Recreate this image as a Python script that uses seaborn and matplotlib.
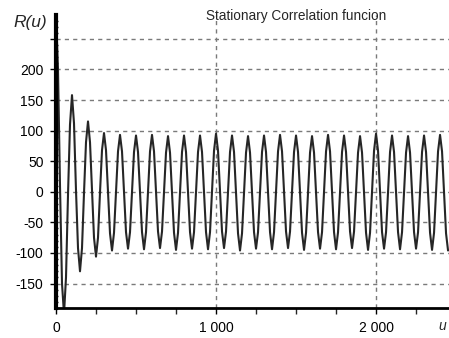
import numpy as np
import pandas as pd
import matplotlib
matplotlib.use("Agg")
import matplotlib.pyplot as plt
import seaborn as sns
from matplotlib.ticker import MultipleLocator, FixedLocator

# sample spacing of the read-off curve (units of u)
step = 12.5
# R(u) read every 12.5 units, one row per period of 100
r_values = [
    290, 200, 10, -150, -200, -140, -5, 110,
    158, 112, 2, -92, -130, -92, -2, 81,
    115, 81, 1, -75, -106, -75, -1, 68,
    96, 68, 0, -68, -96, -67, 0, 66,
    93, 66, 0, -66, -93, -66, 0, 65,
    92, 65, -1, -66, -94, -66, 0, 66,
    93, 66, 1, -65, -92, -65, 0, 64,
    91, 64, -1, -67, -95, -67, -1, 65,
    92, 65, 0, -66, -93, -66, 0, 65,
    92, 65, 0, -66, -94, -66, 0, 67,
    95, 67, 1, -65, -92, -65, 0, 65,
    92, 65, -1, -68, -96, -68, -1, 64,
    91, 64, 0, -66, -93, -66, 0, 65,
    92, 65, 0, -66, -94, -66, 0, 66,
    93, 66, 1, -65, -92, -65, 0, 65,
    92, 65, -1, -67, -95, -67, -1, 64,
    91, 64, 0, -66, -93, -66, 0, 66,
    93, 66, 0, -66, -94, -66, 0, 65,
    92, 65, 0, -65, -92, -65, 0, 64,
    91, 64, -1, -67, -95, -67, -1, 67,
    95, 67, 1, -66, -93, -66, 0, 65,
    92, 65, 0, -66, -94, -66, 0, 64,
    91, 64, 0, -66, -93, -66, 0, 65,
    92, 65, -1, -67, -95, -67, -1, 66,
    93, 66, -1, -68, -96,
]
u_values = [i * step for i in range(len(r_values))]

y_ticks = [-150, -100, -50, 0, 50, 100, 150, 200, 250]
y_tick_labels = ["-150", "-100", "-50", "0", "50", "100", "150", "200", ""]
x_ticks = [0, 1000, 2000]
x_tick_labels = ["0", "1 000", "2 000"]

sns.set_style("white")
plt.rcParams["font.family"] = ["Liberation Sans", "DejaVu Sans"]

df = pd.DataFrame({"u": u_values, "R": r_values})

fig = plt.figure(figsize=(4.49, 3.38), dpi=100)
ax = fig.add_axes([56 / 449, 1 - 308 / 338, 1 - 56 / 449, (308 - 15) / 338])

sns.lineplot(data=df, x="u", y="R", ax=ax, color="#262626", linewidth=1.5)

ax.set_xlim(0, 2456)
ax.set_ylim(-190, 289)

ax.xaxis.set_major_locator(FixedLocator(x_ticks))
ax.set_xticklabels(x_tick_labels)
ax.xaxis.set_minor_locator(MultipleLocator(250))
ax.yaxis.set_major_locator(FixedLocator(y_ticks))
ax.set_yticklabels(y_tick_labels)
ax.yaxis.set_minor_locator(MultipleLocator(10))

ax.tick_params(axis="both", which="major", labelsize=10, colors="black",
               direction="out", length=4, width=1, pad=5)
ax.tick_params(axis="x", which="minor", direction="out", length=4, width=1)
ax.tick_params(axis="y", which="minor", direction="inout", length=3, width=1)
ax.tick_params(left=True, bottom=True, which="both")

ax.set_xlabel("")
ax.set_ylabel("")

grid_kw = dict(color="#7a7a7a", linestyle=(0, (3, 3)), linewidth=1)
ax.yaxis.grid(True, which="major", **grid_kw)
ax.xaxis.grid(True, which="major", **grid_kw)
ax.set_axisbelow(True)

for s in ["top", "right"]:
    ax.spines[s].set_visible(False)
ax.spines["left"].set_linewidth(3)
ax.spines["left"].set_color("black")
ax.spines["bottom"].set_linewidth(2)
ax.spines["bottom"].set_color("black")

fig.text(30 / 449, 1 - 22 / 338, "R(u)", fontsize=12.5, style="italic",
         ha="center", va="center")
fig.text(296 / 449, 1 - 16 / 338, "Stationary Correlation funcion",
         fontsize=9.8, ha="center", va="center")
fig.text(438 / 449, 1 - 326 / 338, "u", fontsize=10, style="italic",
         ha="left", va="center")

fig.savefig("out.png", dpi=100)
